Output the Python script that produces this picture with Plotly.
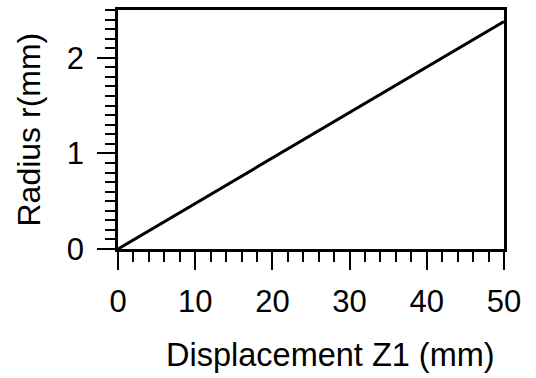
import plotly.graph_objects as go

displacement = [0, 50]
radius = [0, 2.38]
x_ticks = [0, 10, 20, 30, 40, 50]
y_ticks = [0, 1, 2]

FONT = "Liberation Sans, Arial, sans-serif"

fig = go.Figure()
fig.add_trace(go.Scatter(x=displacement, y=radius, mode="lines",
                         line=dict(color="black", width=3), showlegend=False))

fig.update_layout(
    width=536, height=378,
    margin=dict(l=118, r=32, t=7, b=129),
    paper_bgcolor="white", plot_bgcolor="white",
    font=dict(family=FONT, color="black"),
    xaxis=dict(range=[0, 50], tickvals=x_ticks, ticks="outside", ticklen=18,
               tickwidth=2, tickcolor="black", showline=True, linewidth=2.5,
               linecolor="black", mirror=True, showgrid=False, zeroline=False,
               tickfont=dict(size=31, family=FONT), ticklabelstandoff=5,
               minor=dict(dtick=2, ticks="outside", ticklen=10, tickwidth=2,
                          tickcolor="black", showgrid=False)),
    yaxis=dict(range=[0, 2.5], tickvals=y_ticks, ticks="outside", ticklen=18,
               tickwidth=2, tickcolor="black", showline=True, linewidth=2.5,
               linecolor="black", mirror=True, showgrid=False, zeroline=False,
               tickfont=dict(size=31, family=FONT), ticklabelstandoff=7,
               minor=dict(dtick=0.1, ticks="outside", ticklen=10, tickwidth=2,
                          tickcolor="black", showgrid=False)),
    annotations=[
        dict(text="Displacement Z1 (mm)", xref="paper", yref="paper",
             x=(330 - 118) / 386, y=-(356 - 249) / 242, xanchor="center",
             yanchor="middle", showarrow=False, font=dict(size=32.5, family=FONT)),
        dict(text="Radius r(mm)", xref="paper", yref="paper",
             x=-(118 - 28) / 386, y=0.5, xanchor="center", yanchor="middle",
             textangle=-90, showarrow=False, font=dict(size=32, family=FONT)),
    ],
)

fig.write_html("out.html")
